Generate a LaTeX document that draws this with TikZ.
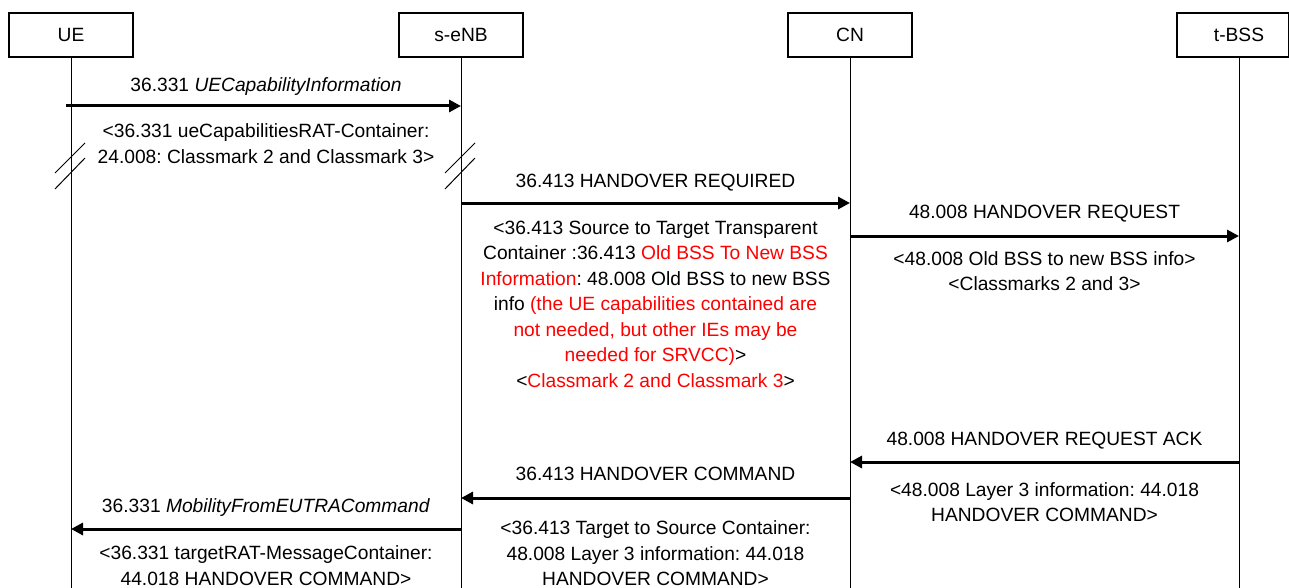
\documentclass[tikz,border=0pt]{standalone}
\usepackage{fontspec}
\setmainfont{Liberation Sans}
\usetikzlibrary{arrows.meta}
\frenchspacing
\newcommand{\redtxt}[1]{\textcolor{red}{#1}}
\tikzset{
  entity/.style={draw, line width=1.2pt, minimum width=124pt, minimum height=44pt, inner sep=0pt},
  lifeline/.style={line width=1pt},
  msg/.style={line width=3pt, -{Triangle[length=12pt,width=12pt]}},
  lbl/.style={anchor=base, align=center, inner sep=0pt},
  brk/.style={line width=1pt}
}

\begin{document}
\begin{tikzpicture}[x=1pt, y=-1pt, font=\fontsize{19.2}{25.5}\selectfont]
    \useasboundingbox (0,0) rectangle (1289,588);
    % Entites
    \node[entity] (ue) at (71,35) {UE};
    \node[entity] (enb) at (461,35) {s-eNB};
    \node[entity] (cn) at (850,35) {CN};
    \node[entity, minimum width=112pt] (bss) at (1233,35) {};
    \node (bsstxt) at (1239,35) {t-BSS};
    % Lignes de vie
    \foreach \e in {ue,enb,cn} \draw[lifeline] (\e) -- (\e |- 0,588);
    \draw[lifeline] (bsstxt |- bss.south) -- (bsstxt |- 0,588);
    % Coupures
    \foreach \x in {71,461} {
        \draw[brk] ({\x-16},173) -- ({\x+14},143);
        \draw[brk] ({\x-16},189) -- ({\x+14},158);
    }
    % UE -> s-eNB
    \coordinate (ue1) at (ue |- 0,106);
    \coordinate (enb1) at (enb |- 0,106);
    \draw[msg, shorten <=-5pt] (ue1) -- node[lbl, yshift=14pt] (t1) {36.331 \textit{UECapabilityInformation}}
        node[lbl, yshift=-57.5pt] (t1b) {<36.331 ueCapabilitiesRAT-Container:\\24.008: Classmark 2 and Classmark 3>} (enb1);
    % s-eNB -> CN
    \coordinate (enb2) at (enb |- 0,203);
    \coordinate (cn2) at (cn |- 0,203);
    \draw[msg] (enb2) -- node[lbl, yshift=16pt] (t2) {36.413 HANDOVER REQUIRED}
        node[lbl, yshift=-184pt] (t2b) {<36.413 Source to Target Transparent\\Container :36.413 \redtxt{Old BSS To New BSS}\\\redtxt{Information}: 48.008 Old BSS to new BSS\\info \redtxt{(the UE capabilities contained are}\\\redtxt{not needed, but other IEs may be}\\\redtxt{needed for SRVCC)}>\\<\redtxt{Classmark 2 and Classmark 3}>} (cn2);
    % CN -> t-BSS
    \coordinate (cn3) at (cn |- 0,236);
    \coordinate (bss3) at (bsstxt |- 0,236);
    \draw[msg] (cn3) -- node[lbl, yshift=18pt] (t3) {48.008 HANDOVER REQUEST}
        node[lbl, yshift=-54.5pt] (t3b) {<48.008 Old BSS to new BSS info>\\<Classmarks 2 and 3>} (bss3);
    % t-BSS -> CN
    \coordinate (bss4) at (bsstxt |- 0,462);
    \coordinate (cn4) at (cn |- 0,462);
    \draw[msg] (bss4) -- node[lbl, yshift=17pt] (t4) {48.008 HANDOVER REQUEST ACK}
        node[lbl, yshift=-59.5pt] (t4b) {<48.008 Layer 3 information: 44.018\\HANDOVER COMMAND>} (cn4);
    % CN -> s-eNB
    \coordinate (cn5) at (cn |- 0,498);
    \coordinate (enb5) at (enb |- 0,498);
    \draw[msg] (cn5) -- node[lbl, yshift=18pt] (t5) {36.413 HANDOVER COMMAND}
        node[lbl, yshift=-87.5pt] (t5b) {<36.413 Target to Source Container:\\48.008 Layer 3 information: 44.018\\HANDOVER COMMAND>} (enb5);
    % s-eNB -> UE
    \coordinate (enb6) at (enb |- 0,529);
    \coordinate (ue6) at (ue |- 0,529);
    \draw[msg] (enb6) -- node[lbl, yshift=17pt] (t6) {36.331 \textit{MobilityFromEUTRACommand}}
        node[lbl, yshift=-56pt] (t6b) {<36.331 targetRAT-MessageContainer:\\44.018 HANDOVER COMMAND>} (ue6);
\end{tikzpicture}
\end{document}
